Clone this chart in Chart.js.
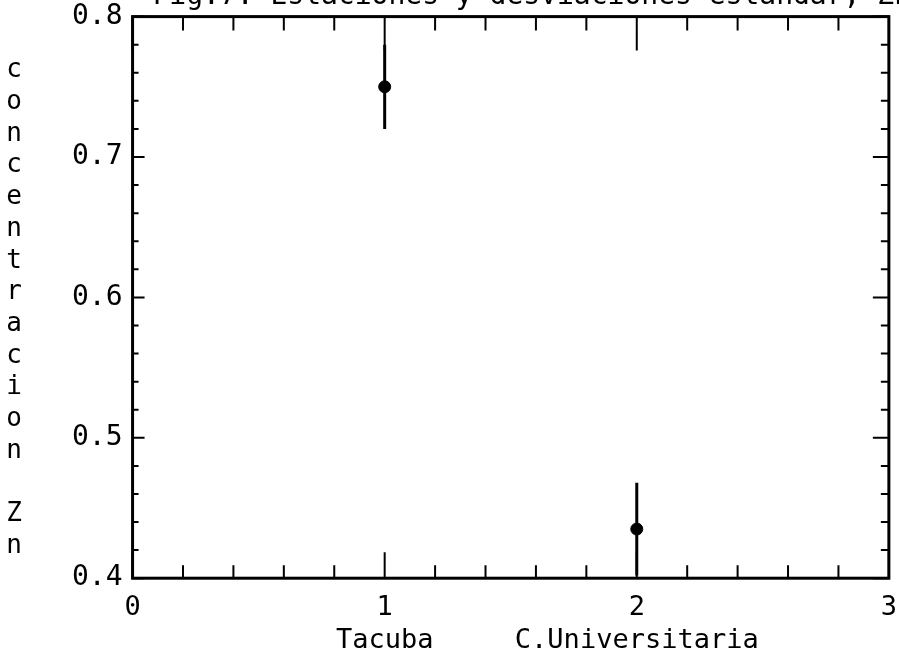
<!DOCTYPE html>
<html>
<head>
<meta charset="utf-8">
<script src="https://cdn.jsdelivr.net/npm/chart.js@4.4.1/dist/chart.umd.min.js"></script>
<style>
html, body { margin: 0; padding: 0; background: #fff; overflow: hidden; }
#wrap { position: absolute; left: 0; top: -20px; width: 911px; height: 691px; }
</style>
</head>
<body>
<div id="wrap"><canvas id="chart"></canvas></div>
<script>
// data
const stations = ['Tacuba', 'C.Universitaria'];
const stationX = [1, 2];
const zn = [0.75, 0.435];
const znErr = [0.03, 0.033];
const xTickLabels = ['0', '1', '2', '3'];
const yTickLabels = ['0.4', '0.5', '0.6', '0.7', '0.8'];
const yTitle = 'concentracion Zn';
const chartTitle = 'Fig.7. Estaciones y desviaciones estandar, Zn';

const font = "'DejaVu Sans Mono', monospace";

function isWhole(v, step) {
    return Math.abs(v / step - Math.round(v / step)) < 1e-6;
}

// error bars as small two point lines
const errorSets = stationX.map((x, i) => ({
    type: 'line',
    data: [{ x: x, y: zn[i] - znErr[i] }, { x: x, y: zn[i] + znErr[i] }],
    borderColor: '#000',
    borderWidth: 3,
    pointRadius: 0,
    fill: false
}));

// box, inward ticks and the stacked y title
const framePlugin = {
    id: 'frame',
    afterDraw(chart) {
        const ctx = chart.ctx;
        const a = chart.chartArea;
        const xs = chart.scales.x;
        const ys = chart.scales.y;
        ctx.save();
        ctx.strokeStyle = '#000';
        ctx.lineWidth = 3;
        ctx.strokeRect(a.left, a.top, a.right - a.left, a.bottom - a.top);

        ctx.lineWidth = 2;
        ctx.beginPath();
        xs.ticks.forEach(t => {
            const px = xs.getPixelForValue(t.value);
            const major = isWhole(t.value, 1);
            ctx.moveTo(px, a.bottom);
            ctx.lineTo(px, a.bottom - (major ? 26 : 13));
            ctx.moveTo(px, a.top);
            ctx.lineTo(px, a.top + (major ? 34 : 14));
        });
        ys.ticks.forEach(t => {
            const py = ys.getPixelForValue(t.value);
            const major = isWhole(t.value, 0.1);
            ctx.moveTo(a.left, py);
            ctx.lineTo(a.left + (major ? 12 : 6), py);
            ctx.moveTo(a.right, py);
            ctx.lineTo(a.right - (major ? 16 : 8), py);
        });
        ctx.stroke();

        // y title, one letter under the other
        ctx.fillStyle = '#000';
        ctx.font = '26px ' + font;
        ctx.textAlign = 'center';
        ctx.textBaseline = 'middle';
        const step = 31.7;
        const top = a.top + 54;
        yTitle.split('').forEach((ch, i) => {
            ctx.fillText(ch, 14, top + i * step);
        });
        ctx.restore();
    }
};

new Chart(document.getElementById('chart'), {
    type: 'scatter',
    data: {
        datasets: [
            ...errorSets,
            {
                type: 'scatter',
                label: 'Zn',
                data: stationX.map((x, i) => ({ x: x, y: zn[i] })),
                backgroundColor: '#000',
                borderColor: '#000',
                pointRadius: 6,
                pointHoverRadius: 6
            }
        ]
    },
    options: {
        responsive: true,
        maintainAspectRatio: false,
        animation: false,
        events: [],
        layout: { padding: { left: 62, right: 0, top: 0, bottom: 0 } },
        plugins: {
            legend: { display: false },
            tooltip: { enabled: false },
            title: {
                display: true,
                text: chartTitle,
                color: '#000',
                font: { family: font, size: 28, weight: 'normal' },
                align: 'end',
                padding: { top: 0, bottom: 3 }
            }
        },
        scales: {
            x: {
                type: 'linear',
                min: 0,
                max: 3,
                grid: { display: false, drawTicks: false },
                border: { display: false },
                ticks: {
                    stepSize: 0.2,
                    autoSkip: false,
                    maxRotation: 0,
                    padding: 14,
                    color: '#000',
                    font: { family: font, size: 27 },
                    callback: function (v) {
                        if (!isWhole(v, 1)) return '';
                        const n = Math.round(v);
                        const idx = stationX.indexOf(n);
                        return idx >= 0 ? [xTickLabels[n], stations[idx]] : xTickLabels[n];
                    }
                }
            },
            y: {
                min: 0.4,
                max: 0.8,
                grid: { display: false, drawTicks: false },
                border: { display: false },
                ticks: {
                    stepSize: 0.02,
                    autoSkip: false,
                    padding: 10,
                    color: '#000',
                    font: { family: font, size: 28 },
                    callback: function (v) {
                        if (!isWhole(v, 0.1)) return '';
                        return yTickLabels[Math.round((v - 0.4) * 10)];
                    }
                }
            }
        }
    },
    plugins: [framePlugin]
});
</script>
</body>
</html>
